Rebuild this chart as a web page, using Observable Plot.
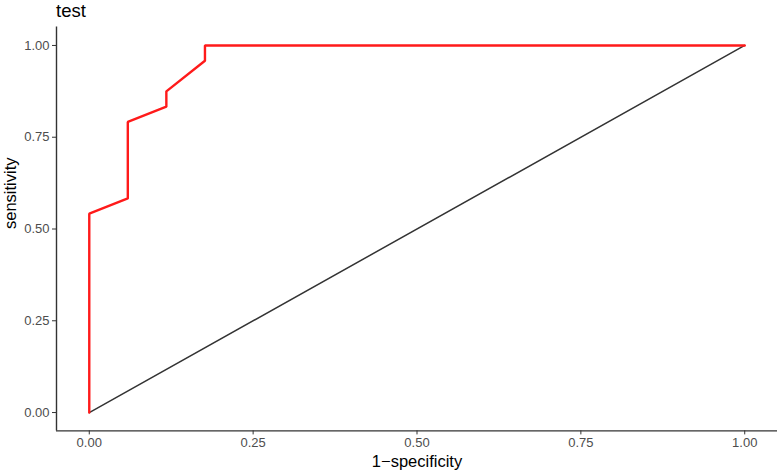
<!DOCTYPE html>
<html>
<head>
<meta charset="utf-8">
<script src="https://cdn.jsdelivr.net/npm/d3@7"></script>
<script src="https://cdn.jsdelivr.net/npm/@observablehq/plot@0.6"></script>
<style>
  body { margin: 0; background: #fff; font-family: "Liberation Sans", Arial, sans-serif; }
  #title { height: 24px; line-height: 21px; font-size: 18.5px; padding-left: 56px; color: #000; overflow: visible; }
</style>
</head>
<body>
<div id="title">test</div>
<div id="chart"></div>
<script>
// ROC curve values (1 - specificity, sensitivity)
const fpr = [0, 0, 0.0588, 0.0588, 0.1176, 0.1176, 0.1765, 0.1765, 1];
const tpr = [0, 0.5417, 0.5833, 0.7917, 0.8333, 0.875, 0.9583, 1, 1];
// reference diagonal
const diagX = [0, 1];
const diagY = [0, 1];
const tickValues = [0, 0.25, 0.5, 0.75, 1];
const xTitle = "1−specificity";
const yTitle = "sensitivity";

const roc = fpr.map((x, i) => ({x, y: tpr[i]}));
const diag = diagX.map((x, i) => ({x, y: diagY[i]}));

const fmt = d3.format(".2f");
const chart = Plot.plot({
  width: 779,
  height: 449,
  marginLeft: 56,
  marginRight: 2,
  marginTop: 2.6,
  marginBottom: 42.6,
  style: {fontFamily: "Liberation Sans, Arial, sans-serif", background: "#fff"},
  x: {domain: [-0.05, 1.05]},
  y: {domain: [-0.05, 1.05]},
  marks: [
    Plot.ruleX([-0.05], {stroke: "#333", strokeWidth: 1.4}),
    Plot.ruleY([-0.05], {stroke: "#333", strokeWidth: 1.4}),
    Plot.axisX({ticks: tickValues, tickFormat: fmt, tickSize: 4, tickPadding: 3, stroke: "#333", fill: "#4d4d4d", fontSize: 13, label: null}),
    Plot.axisY({ticks: tickValues, tickFormat: fmt, tickSize: 4, tickPadding: 3, stroke: "#333", fill: "#4d4d4d", fontSize: 13, label: null}),
    Plot.line(diag, {x: "x", y: "y", stroke: "#333", strokeWidth: 1.5}),
    Plot.line(roc, {x: "x", y: "y", stroke: "#ff1a1a", strokeWidth: 2.4, strokeLinejoin: "miter"}),
    Plot.text([xTitle], {frameAnchor: "bottom", dy: 31, lineAnchor: "middle", fontSize: 16.5, fill: "#000"}),
    Plot.text([yTitle], {frameAnchor: "left", dx: -46, rotate: -90, lineAnchor: "middle", fontSize: 16.5, fill: "#000"})
  ]
});
document.getElementById("chart").appendChild(chart);
</script>
</body>
</html>
